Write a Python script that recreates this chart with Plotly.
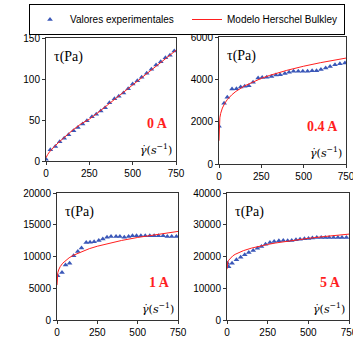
import plotly.graph_objects as go

W, H = 353, 339

# ---- data ----
x0A = [0, 25, 54, 79, 105, 130, 159, 184, 211, 236, 265, 290, 316, 341, 366, 395, 420, 447, 474, 500, 527, 552, 581, 608, 635, 662, 689, 715, 740]
y0A = [2, 13.6, 17.8, 23.5, 27.7, 32, 37, 41, 45, 49, 54, 57, 61, 65, 71, 76, 79, 83, 88, 94, 98, 102, 107, 112, 117, 121, 126, 129, 134]

x04 = [0, 30, 49, 77, 103, 128, 152, 176, 201, 231, 255, 282, 310, 336, 361, 389, 414, 440, 468, 495, 523, 550, 576, 602, 630, 656, 685, 714, 744]
y04 = [1780, 2870, 3150, 3540, 3560, 3640, 3670, 3700, 3860, 4060, 4090, 4100, 4130, 4200, 4220, 4270, 4330, 4380, 4380, 4380, 4380, 4410, 4410, 4460, 4540, 4610, 4690, 4740, 4770]

x1A = [4, 31, 53, 78, 103, 129, 152, 181, 205, 230, 259, 284, 310, 335, 366, 390, 417, 444, 468, 493, 520, 547, 575, 602, 629, 658, 684, 711, 740]
y1A = [6950, 7470, 8680, 8950, 10100, 10790, 11320, 12210, 12260, 12320, 12530, 12740, 13050, 13160, 13160, 13160, 13050, 13160, 13260, 13260, 13260, 13260, 13260, 13260, 13260, 13260, 13160, 13160, 13160]

x5A = [2, 10, 31, 58, 84, 109, 134, 161, 187, 212, 237, 264, 290, 319, 346, 373, 398, 424, 449, 476, 501, 525, 552, 579, 604, 628, 655, 682, 707, 734]
y5A = [17900, 16800, 17900, 18950, 19790, 20530, 21260, 21890, 22630, 23160, 23890, 24420, 24740, 24950, 25050, 24950, 25050, 25260, 25470, 25580, 25680, 25790, 26000, 26000, 26000, 26000, 26000, 26000, 26000, 26000]

xm = [0, 2, 5, 10, 20, 35, 50, 75, 100, 150, 200, 250, 300, 400, 500, 600, 750]
m0A = [4, 5, 6, 8, 11, 15, 18, 23, 28, 37, 45, 51, 59, 76, 93, 110, 135]
m04 = [1100, 1956, 2183, 2393, 2644, 2882, 3052, 3265, 3431, 3686, 3883, 4047, 4188, 4424, 4620, 4788, 5004]
m1A = [5500, 6980, 7437, 7875, 8412, 8933, 9312, 9794, 10175, 10766, 11231, 11617, 11956, 12523, 13002, 13418, 13949]
m5A = [16000, 17684, 18252, 18806, 19497, 20177, 20678, 21321, 21830, 22632, 23264, 23797, 24263, 25052, 25718, 26297, 27051]

labels = ["0 A", "0.4 A", "1 A", "5 A"]
yranges = [[0, 150], [0, 6000], [0, 20000], [0, 40000]]
ydticks = [50, 2000, 5000, 10000]
xticks = [0, 250, 500, 750]

panels = [(x0A, y0A, m0A), (x04, y04, m04), (x1A, y1A, m1A), (x5A, y5A, m5A)]

# pixel boxes (left, right, top, bottom)
boxes = [(46, 176, 38, 161), (219, 346, 37, 164), (57, 178, 193, 320), (227, 349, 193, 320)]

def px(x):
    return x / W

def py(y):
    return 1 - y / H

BLUE = "#3A57B8"
RED = "#FF1F1F"

fig = go.Figure()
for i, (xs, ys, ms) in enumerate(panels):
    ax = "" if i == 0 else str(i + 1)
    fig.add_trace(go.Scatter(x=xs, y=ys, mode="markers",
                             marker=dict(symbol="triangle-up", size=5, color=BLUE),
                             name="Valores experimentales", showlegend=(i == 0),
                             xaxis="x" + ax, yaxis="y" + ax))
    fig.add_trace(go.Scatter(x=xm, y=ms, mode="lines", line=dict(color=RED, width=1),
                             name="Modelo Herschel Bulkley", showlegend=(i == 0),
                             xaxis="x" + ax, yaxis="y" + ax))

layout = dict(width=W, height=H, margin=dict(l=0, r=0, t=0, b=0, autoexpand=False),
              paper_bgcolor="white", plot_bgcolor="white",
              font=dict(family="Liberation Sans, Arial", size=10, color="black"))

annotations = []
for i, (l, r, t, b) in enumerate(boxes):
    ax = "" if i == 0 else str(i + 1)
    layout["xaxis" + ax] = dict(domain=[px(l), px(r)], range=[0, 750], tickvals=xticks,
                                showgrid=False, zeroline=False, showline=True, mirror=True,
                                linecolor="#333", linewidth=1, ticks="outside", ticklen=3,
                                tickcolor="#333", anchor="y" + ax, fixedrange=True,
                                automargin=False, ticklabeloverflow="allow",
                                tickfont=dict(size=10))
    layout["yaxis" + ax] = dict(domain=[py(b), py(t)], range=yranges[i], dtick=ydticks[i],
                                tickformat="d", automargin=False, ticklabeloverflow="allow",
                                showgrid=False, zeroline=False, showline=True, mirror=True,
                                linecolor="#333", linewidth=1, ticks="outside", ticklen=3,
                                tickcolor="#333", anchor="x" + ax, fixedrange=True,
                                tickfont=dict(size=10))
    annotations.append(dict(text="τ(Pa)", x=px(l + 6), y=py(t + 19), xref="paper", yref="paper",
                            xanchor="left", yanchor="middle", showarrow=False,
                            font=dict(family="Liberation Serif, Times New Roman", size=14)))
    annotations.append(dict(text="<b>" + labels[i] + "</b>", x=px(r - 6), y=py(b - 38),
                            xref="paper", yref="paper", xanchor="right", yanchor="middle",
                            showarrow=False,
                            font=dict(family="Liberation Serif, Times New Roman", size=14, color=RED)))
    annotations.append(dict(text="<i>γ̇</i>(<i>s</i><sup>−1</sup>)", x=px(r - 2), y=py(b - 12),
                            xref="paper", yref="paper", xanchor="right", yanchor="middle",
                            showarrow=False,
                            font=dict(family="DejaVu Serif, Liberation Serif", size=11)))

layout["annotations"] = annotations
layout["legend"] = dict(orientation="h", x=px(29), y=py(4), xanchor="left", yanchor="top",
                        bordercolor="black", borderwidth=1, bgcolor="white",
                        font=dict(family="Liberation Sans, Arial", size=10),
                        entrywidth=112, entrywidthmode="pixels", itemwidth=30,
                        tracegroupgap=0)
fig.update_layout(**layout)
fig.write_html("out.html", config={"displayModeBar": False},
               post_script="document.body.style.margin='0';document.body.style.padding='0';")
